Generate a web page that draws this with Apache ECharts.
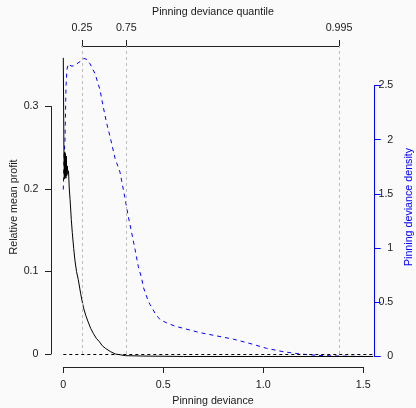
<!DOCTYPE html>
<html>
<head>
<meta charset="utf-8">
<script src="https://cdn.jsdelivr.net/npm/echarts@6/dist/echarts.min.js"></script>
<style>
html,body{margin:0;padding:0;background:#fafafa;}
#chart{width:416px;height:408px;}
</style>
</head>
<body>
<div id="chart"></div>
<script>
// Pinning deviance (x) vs relative mean profit
const profitX = [0, 0.003, 0.005, 0.007, 0.009, 0.011, 0.013, 0.015, 0.017, 0.02, 0.023, 0.026, 0.03, 0.034, 0.04, 0.045, 0.052, 0.058, 0.066, 0.075, 0.087, 0.1, 0.112, 0.124, 0.137, 0.15, 0.165, 0.18, 0.195, 0.21, 0.235, 0.26, 0.285, 0.31, 0.4, 0.6, 1.0, 1.55];
const profitY = [0.359, 0.248, 0.212, 0.245, 0.215, 0.243, 0.213, 0.24, 0.216, 0.228, 0.218, 0.222, 0.2, 0.187, 0.163, 0.147, 0.128, 0.114, 0.1, 0.09, 0.073, 0.057, 0.047, 0.039, 0.031, 0.025, 0.019, 0.015, 0.010, 0.007, 0.003, 0.0, -0.001, -0.002, -0.0025, -0.003, -0.003, -0.003];

// Pinning deviance density
const densityX = [0, 0.0035, 0.0085, 0.0135, 0.0185, 0.025, 0.0385, 0.05, 0.067, 0.0835, 0.1035, 0.1185, 0.1335, 0.1585, 0.1835, 0.2, 0.217, 0.2335, 0.2585, 0.2835, 0.3085, 0.325, 0.342, 0.3585, 0.375, 0.392, 0.4, 0.425, 0.4335, 0.4585, 0.475, 0.4835, 0.517, 0.5585, 0.6, 0.6835, 0.767, 0.85, 0.9335, 1.017, 1.1, 1.1835, 1.267, 1.35, 1.4335, 1.55];
const densityY = [1.54, 1.84, 2.0, 2.5, 2.65, 2.70, 2.68, 2.68, 2.70, 2.72, 2.75, 2.74, 2.70, 2.61, 2.46, 2.30, 2.15, 2.03, 1.83, 1.70, 1.46, 1.29, 1.14, 0.99, 0.83, 0.72, 0.64, 0.51, 0.48, 0.40, 0.36, 0.34, 0.31, 0.28, 0.26, 0.22, 0.19, 0.16, 0.12, 0.075, 0.044, 0.023, 0.011, 0.005, 0.002, 0.0];

// Quantiles of pinning deviance (top axis)
const quantileX = [0.0935, 0.315, 1.3785];
const quantileLabels = ['0.25', '0.75', '0.995'];

// Tick values
const bottomTicks = [0, 0.5, 1.0, 1.5];
const leftTicks = [0, 0.1, 0.2, 0.3];
const rightTicks = [0, 0.5, 1, 1.5, 2, 2.5];

const FONT = 'Liberation Sans, Arial, Helvetica, sans-serif';
const FS = 10.7;
const TXT = '#1a1a1a';
const AX = '#222';

const xMinMain = -0.06, xMaxMain = 1.557;
const yLeftMin = -0.01697, yLeftMax = 0.37333;
const yRightMin = -0.10609, yRightMax = 2.8644;

const noDecor = {axisLine:{show:false}, axisTick:{show:false}, axisLabel:{show:false}, splitLine:{show:false}};
const G = {containLabel: false, outerBoundsMode: 'none'};

const option = {
  backgroundColor: '#fafafa',
  animation: false,
  textStyle: {fontFamily: FONT},
  grid: [
    Object.assign({left: 51.3, top: 46, width: 323.4, height: 322}, G),
    Object.assign({left: 51, top: 106.5, width: 10, height: 247.5}, G),
    Object.assign({left: 364.7, top: 85.5, width: 10, height: 271}, G),
    Object.assign({left: 63.3, top: 360, width: 300, height: 7}, G),
    Object.assign({left: 82, top: 46, width: 257, height: 10}, G)
  ],
  xAxis: [
    Object.assign({gridIndex: 0, type: 'value', min: xMinMain, max: xMaxMain, position: 'bottom',
      name: 'Pinning deviance', nameLocation: 'middle', nameGap: 28,
      nameTextStyle: {fontSize: FS, color: TXT, fontFamily: FONT}}, noDecor),
    Object.assign({gridIndex: 0, type: 'value', min: xMinMain, max: xMaxMain, position: 'top',
      name: 'Pinning deviance quantile', nameLocation: 'middle', nameGap: 28,
      nameTextStyle: {fontSize: FS, color: TXT, fontFamily: FONT}}, noDecor),
    {gridIndex: 3, type: 'value', min: 0, max: 1.5, interval: 0.5, position: 'bottom',
      axisLine: {show: true, onZero: false, lineStyle: {color: AX, width: 1}},
      axisTick: {show: true, length: 6, inside: false, lineStyle: {color: AX}},
      axisLabel: {show: true, margin: 13, fontSize: FS, color: TXT, fontFamily: FONT,
        formatter: v => (bottomTicks.indexOf(v) < 0 ? '' : (v === 0 ? '0' : v.toFixed(1)))},
      splitLine: {show: false}},
    {gridIndex: 4, type: 'value', min: quantileX[0], max: quantileX[quantileX.length - 1], position: 'top',
      axisLine: {show: true, onZero: false, lineStyle: {color: AX, width: 1}},
      axisTick: {show: true, length: 6, customValues: quantileX, lineStyle: {color: AX}},
      axisLabel: {show: true, margin: 12, fontSize: FS, color: TXT, fontFamily: FONT,
        customValues: quantileX,
        formatter: v => { const i = quantileX.indexOf(v); return i < 0 ? '' : quantileLabels[i]; }},
      splitLine: {show: false}},
    {gridIndex: 1, type: 'value', show: false},
    {gridIndex: 2, type: 'value', show: false}
  ],
  yAxis: [
    Object.assign({gridIndex: 0, type: 'value', min: yLeftMin, max: yLeftMax, position: 'left',
      name: 'Relative mean profit', nameLocation: 'middle', nameGap: 32,
      nameTextStyle: {fontSize: FS, color: TXT, fontFamily: FONT}}, noDecor),
    Object.assign({gridIndex: 0, type: 'value', min: yRightMin, max: yRightMax, position: 'right',
      name: 'Pinning deviance density', nameLocation: 'middle', nameGap: 29,
      nameTextStyle: {fontSize: FS, color: '#0000ff', fontFamily: FONT}}, noDecor),
    {gridIndex: 1, type: 'value', min: 0, max: 0.3, interval: 0.1, position: 'left',
      axisLine: {show: true, onZero: false, lineStyle: {color: AX, width: 1}},
      axisTick: {show: true, length: 6, lineStyle: {color: AX}},
      axisLabel: {show: true, margin: 12.5, fontSize: FS, color: TXT, fontFamily: FONT,
        formatter: v => (v === 0 ? '0' : v.toFixed(1))},
      splitLine: {show: false}},
    {gridIndex: 2, type: 'value', min: 0, max: 2.5, interval: 0.5, position: 'right',
      axisLine: {show: true, onZero: false, lineStyle: {color: '#0000ff', width: 1}},
      axisTick: {show: true, length: 6, lineStyle: {color: '#0000ff'}},
      axisLabel: {show: true, margin: 18.6, align: 'right', fontSize: FS, color: TXT, fontFamily: FONT},
      splitLine: {show: false}},
    {gridIndex: 3, type: 'value', show: false},
    {gridIndex: 4, type: 'value', show: false}
  ],
  series: [
    {
      name: 'quantiles', type: 'line', xAxisIndex: 0, yAxisIndex: 0, data: [],
      markLine: {
        silent: true, symbol: 'none', label: {show: false},
        lineStyle: {color: '#bdbdbd', type: [3, 3], width: 1},
        data: quantileX.map(q => [{coord: [q, 0]}, {coord: [q, yLeftMax]}])
      }
    },
    {
      name: 'zero', type: 'line', xAxisIndex: 0, yAxisIndex: 0, data: [],
      markLine: {
        silent: true, symbol: 'none', label: {show: false},
        lineStyle: {color: '#000', type: [3, 3], width: 1},
        data: [[{coord: [0, 0]}, {coord: [profitX[profitX.length - 1], 0]}]]
      }
    },
    {
      name: 'density', type: 'line', xAxisIndex: 0, yAxisIndex: 1, showSymbol: false, silent: true,
      lineStyle: {color: '#0000ff', width: 1, type: [4, 4]},
      data: densityX.map((x, i) => [x, densityY[i]])
    },
    {
      name: 'profit', type: 'line', xAxisIndex: 0, yAxisIndex: 0, showSymbol: false, silent: true,
      lineStyle: {color: '#000', width: 1},
      data: profitX.map((x, i) => [x, profitY[i]])
    }
  ]
};

const chart = echarts.init(document.getElementById('chart'), null, {renderer: 'canvas'});
chart.setOption(option);
</script>
</body>
</html>
